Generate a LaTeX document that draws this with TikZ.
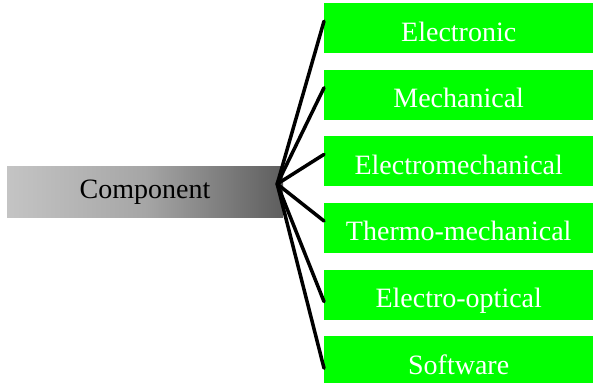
\documentclass[tikz,border=0pt]{standalone}
\usepackage{fontspec}
\setmainfont{Liberation Serif}
\usepackage{xcolor}
\usetikzlibrary{positioning,calc}
\definecolor{leafGreen}{HTML}{00FF00}
\definecolor{rootLight}{HTML}{C4C4C4}
\definecolor{rootDark}{HTML}{5E5E5E}

\begin{document}
\begin{tikzpicture}[x=1pt, y=1pt,
    font=\fontsize{28}{30}\selectfont,
    root/.style={minimum width=276pt, minimum height=51pt, inner sep=0pt,
      left color=rootLight, right color=rootDark, middle color=black!35,
      text=black},
    leaf/.style={fill=leafGreen, text=white, minimum width=269pt,
      minimum height=50pt, inner sep=0pt, text height=26pt, text depth=0pt,
      anchor=north west},
    spoke/.style={line width=3.5pt, black, line cap=round}]
  \useasboundingbox (0,0) rectangle (593,382);
  % the component box on the left
  \node[root] (comp) at (145,189.5) {Component};
  % the six kinds, stacked on the right
  \node[leaf] (k1) at (324,379) {Electronic};
  \node[leaf, below=16.2pt of k1] (k2) {Mechanical};
  \node[leaf, below=16.2pt of k2] (k3) {Electromechanical};
  \node[leaf, below=16.2pt of k3] (k4) {Thermo-mechanical};
  \node[leaf, below=16.2pt of k4] (k5) {Electro-optical};
  \node[leaf, below=16.2pt of k5] (k6) {Software};
  % spokes from one point near the right end of the component box
  \coordinate (hub) at ($(comp.east)+(-6,8.5)$);
  \foreach \k in {1,...,4}{
    \coordinate (t\k) at ($(k\k.west)+(0,7)$);
  }
  \foreach \k in {5,6}{
    \coordinate (t\k) at ($(k\k.west)+(0,-7)$);
  }
  \foreach \k in {1,...,6}{
    \draw[spoke] (hub) -- (t\k);
  }
\end{tikzpicture}
\end{document}
